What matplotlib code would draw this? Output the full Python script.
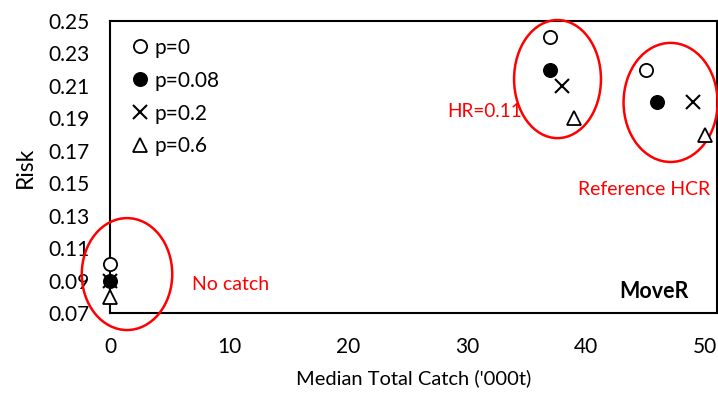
import matplotlib
matplotlib.use("Agg")
import matplotlib.pyplot as plt
from matplotlib.patches import Ellipse

plt.rcParams['font.family'] = ['Lato', 'DejaVu Sans']

series_labels = ["p=0", "p=0.08", "p=0.2", "p=0.6"]
catch = {
    "p=0":    [0, 37, 45],
    "p=0.08": [0, 37, 46],
    "p=0.2":  [0, 38, 49],
    "p=0.6":  [0, 39, 50],
}
risk = {
    "p=0":    [0.10, 0.24, 0.22],
    "p=0.08": [0.09, 0.22, 0.20],
    "p=0.2":  [0.09, 0.21, 0.20],
    "p=0.6":  [0.08, 0.19, 0.18],
}
x_ticks = [0, 10, 20, 30, 40, 50]
y_ticks = [0.07, 0.09, 0.11, 0.13, 0.15, 0.17, 0.19, 0.21, 0.23, 0.25]

styles = {
    "p=0":    dict(marker='o', markerfacecolor='white', markeredgecolor='black', markersize=9.5, markeredgewidth=1.3),
    "p=0.08": dict(marker='o', markerfacecolor='black', markeredgecolor='black', markersize=9.5, markeredgewidth=1.3),
    "p=0.2":  dict(marker='x', color='black', markersize=9.5, markeredgewidth=1.5),
    "p=0.6":  dict(marker='^', markerfacecolor='white', markeredgecolor='black', markersize=9.5, markeredgewidth=1.3),
}

fig = plt.figure(figsize=(7.18, 3.96), dpi=100)
ax = fig.add_axes([110/718, 1-313/396, (717-110)/718, (313-21)/396])

for lab in series_labels:
    ax.plot(catch[lab], risk[lab], linestyle='none', label=lab, clip_on=False, zorder=5, **styles[lab])

ax.set_xlim(0, 51)
ax.set_ylim(0.07, 0.25)
ax.set_xticks(x_ticks)
ax.set_yticks(y_ticks)
ax.set_yticklabels([f"{v:.2f}" for v in y_ticks])
ax.tick_params(length=0, labelsize=15)
ax.tick_params(axis='y', pad=15)
ax.tick_params(axis='x', pad=17)
for s in ax.spines.values():
    s.set_linewidth(1.5)

ax.set_xlabel("Median Total Catch ('000t)", fontsize=14.5, labelpad=9)
ax.set_ylabel("Risk", fontsize=16.5, labelpad=9)

red = '#ff0000'
# ellipses
ellipses = [((37.6, 0.2142), 7.3, 0.0728), ((47.1, 0.1998), 7.9, 0.0734), ((1.43, 0.094), 7.6, 0.069)]
for (c, w, h) in ellipses:
    ax.add_patch(Ellipse(c, w, h, fill=False, edgecolor=red, linewidth=1.8, clip_on=False, zorder=4))

ax.text(6.9, 0.0842, "No catch", color=red, fontsize=14, va='baseline', ha='left')
ax.text(28.3, 0.1908, "HR=0.11", color=red, fontsize=13.6, va='baseline', ha='left')
ax.text(39.3, 0.1427, "Reference HCR", color=red, fontsize=14, va='baseline', ha='left')
ax.text(48.6, 0.0792, "MoveR", color='black', fontsize=15.5, fontweight='bold', va='baseline', ha='right')

ax.legend(loc='upper left', bbox_to_anchor=(0.002, 1.0), frameon=False, fontsize=15,
          handletextpad=0.1, labelspacing=0.62, borderpad=0.3, handlelength=1.2)

fig.savefig("out.png", dpi=100)
